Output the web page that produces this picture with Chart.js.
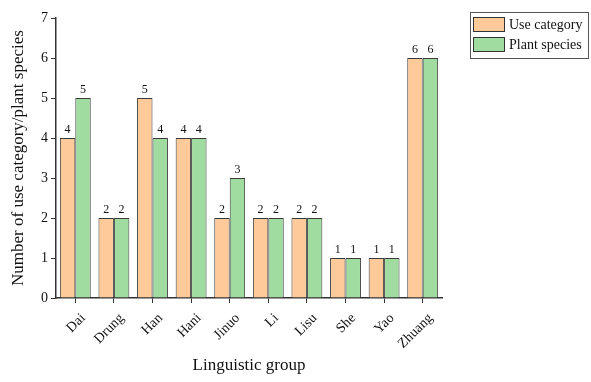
<!DOCTYPE html>
<html><head><meta charset="utf-8">
<script src="https://cdn.jsdelivr.net/npm/chart.js@4"></script>
<style>html,body{margin:0;padding:0;background:#fff}#w{width:591px;height:382px}</style>
</head><body><div id="w"><canvas id="c" width="591" height="382"></canvas></div>
<script>
const categories = ["Dai","Drung","Han","Hani","Jinuo","Li","Lisu","She","Yao","Zhuang"];
const useCategory = [4,2,5,4,2,2,2,1,1,6];
const plantSpecies = [5,2,4,4,3,2,2,1,1,6];
const yTicks = [0,1,2,3,4,5,6,7];
const FONT = "'Liberation Serif','Times New Roman',serif";

const labelPlugin = {
  id:'labels',
  afterDatasetsDraw(chart){
    const ctx = chart.ctx;
    ctx.save();
    ctx.font = "12px " + FONT;
    ctx.fillStyle = '#111';
    ctx.textAlign = 'center';
    ctx.textBaseline = 'bottom';
    chart.data.datasets.forEach((ds,i)=>{
      chart.getDatasetMeta(i).data.forEach((bar,j)=>{
        ctx.fillText(String(ds.data[j]), bar.x, bar.y - 2);
      });
    });
    ctx.restore();
  },
  afterDraw(chart){
    const ctx = chart.ctx;
    ctx.save();
    // rotated category labels
    const xs = chart.scales.x;
    ctx.font = "14px " + FONT;
    ctx.fillStyle = '#111';
    ctx.textAlign = 'right';
    ctx.textBaseline = 'middle';
    chart.data.labels.forEach((lab,i)=>{
      const px = xs.getPixelForTick(i);
      ctx.save();
      ctx.translate(px + 8, chart.chartArea.bottom + 18);
      ctx.rotate(-Math.PI/4);
      ctx.fillText(lab, 0, 0);
      ctx.restore();
    });
    // legend
    const x0 = 470, y0 = 12, w = 118, h = 46;
    ctx.strokeStyle = '#555'; ctx.lineWidth = 1;
    ctx.strokeRect(x0+0.5, y0+0.5, w, h);
    ctx.textAlign = 'left';
    ctx.textBaseline = 'middle';
    chart.data.datasets.forEach((ds,i)=>{
      const yy = y0 + 5 + i*20;
      ctx.fillStyle = ds.backgroundColor;
      ctx.fillRect(x0+3.5, yy+0.5, 31, 14);
      ctx.strokeStyle = '#333';
      ctx.strokeRect(x0+3.5, yy+0.5, 31, 14);
      ctx.fillStyle = '#111';
      ctx.fillText(ds.label, x0+39, yy+8);
    });
    ctx.restore();
  }
};

new Chart(document.getElementById('c'), {
  type:'bar',
  data:{
    labels: categories,
    datasets:[
      {label:'Use category', data:useCategory, backgroundColor:'#FFCA9A', borderColor:'#3a3a3a', borderWidth:1, categoryPercentage:0.8, barPercentage:1.0},
      {label:'Plant species', data:plantSpecies, backgroundColor:'#A0DBA0', borderColor:'#3a3a3a', borderWidth:1, categoryPercentage:0.8, barPercentage:1.0}
    ]
  },
  options:{
    responsive:false, animation:false,
    layout:{padding:{top:18, right:149, left:0, bottom:0}},
    plugins:{legend:{display:false}, tooltip:{enabled:false}},
    scales:{
      x:{
        afterFit(s){ s.height = 84; },
        grid:{drawOnChartArea:false, drawTicks:true, tickLength:5, color:'#333', offset:false},
        border:{display:true, color:'#333', width:1.5},
        ticks:{display:false},
        title:{display:true, text:'Linguistic group', color:'#111', font:{family:FONT, size:17}, padding:{top:4, bottom:6}}
      },
      y:{
        min:0, max:7,
        afterFit(s){ s.width = 56; },
        afterBuildTicks(s){ s.ticks = yTicks.map(v=>({value:v})); },
        grid:{drawOnChartArea:false, drawTicks:true, tickLength:5, color:'#333'},
        border:{display:true, color:'#333', width:1.5},
        ticks:{color:'#111', font:{family:FONT, size:14}, padding:3},
        title:{display:true, text:'Number of use category/plant species', color:'#111', font:{family:FONT, size:17}, padding:{top:8, bottom:4}}
      }
    }
  },
  plugins:[labelPlugin]
});
</script></body></html>
